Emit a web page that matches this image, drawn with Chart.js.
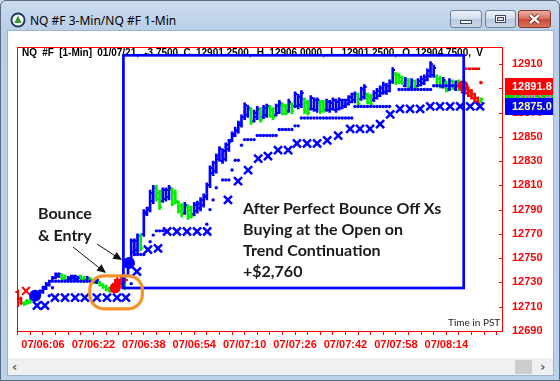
<!DOCTYPE html>
<html><head><meta charset="utf-8">
<script src="https://cdn.jsdelivr.net/npm/chart.js@4.4.1/dist/chart.umd.min.js"></script>
<style>
html,body{margin:0;padding:0;}
body{width:560px;height:381px;overflow:hidden;position:relative;background:linear-gradient(#cddcef,#b9cfe8 30px,#bcd1ea);font-family:"Liberation Sans",Arial,sans-serif;}
#edge{position:absolute;left:0;top:0;width:558px;height:379px;border:1px solid #5a6b80;border-radius:6px 6px 0 0;}
#content{position:absolute;left:8px;top:31px;width:545px;height:344px;background:#fff;outline:1px solid #9fb3cc;}
#title{position:absolute;left:30px;top:12.5px;font:12px/16px "Noto Sans",sans-serif;color:#000;white-space:nowrap;}
.btn{position:absolute;top:10px;height:16px;border:1px solid #6f819b;border-radius:3px;background:linear-gradient(#eaf0f8,#d3deec 48%,#bccbe0 52%,#cbd8ea);}
#bmin{left:450px;width:30px;}
#bmax{left:485px;width:29px;}
#bclose{left:518px;width:31px;border-color:#86372c;background:linear-gradient(#eab1a4,#d8705e 48%,#c74a36 52%,#d8735e);}
#chartbox{position:absolute;left:8px;top:31px;width:545px;height:327px;}
#hdr{position:absolute;left:22px;top:47px;width:466px;overflow:hidden;white-space:nowrap;font:bold 10px/12px "Liberation Sans",Arial,sans-serif;word-spacing:2.5px;color:#000;}
#scroll{position:absolute;left:8px;top:358px;width:545px;height:17px;background:#f0f0f0;}
#thumb{position:absolute;left:507px;top:2px;width:17px;height:14px;background:#cdcdcd;}
.arr{position:absolute;top:0;font:bold 13px/17px "DejaVu Sans",sans-serif;color:#606060;}
.note{position:absolute;font-family:Lato,sans-serif;font-weight:bold;color:#1a1a1a;white-space:nowrap;}
#ov{position:absolute;left:0;top:0;}
</style></head>
<body>
<div id="edge"></div>
<div id="content"></div>
<svg width="30" height="30" style="position:absolute;left:0;top:0">
  <circle cx="18" cy="20" r="7.5" fill="#1d3566"/>
  <circle cx="18" cy="20" r="5.6" fill="#fff"/>
  <polygon points="18,15.6 14.3,23 21.7,23" fill="#2f9b2f"/>
</svg>
<div id="title">NQ #F 3-Min/NQ #F 1-Min</div>
<div class="btn" id="bmin"><svg width="30" height="16"><rect x="9.5" y="9.5" width="11" height="3" fill="#fff" stroke="#3b4a60"/></svg></div>
<div class="btn" id="bmax"><svg width="29" height="16"><rect x="9.5" y="4.5" width="10" height="7" fill="#fff" stroke="#3b4a60"/><rect x="11.5" y="6.5" width="6" height="3" fill="#d3deec" stroke="#3b4a60"/></svg></div>
<div class="btn" id="bclose"><svg width="31" height="16"><path d="M11 4 L20 12 M20 4 L11 12" stroke="#5a1a12" stroke-width="4"/><path d="M11 4 L20 12 M20 4 L11 12" stroke="#fff" stroke-width="2.4"/></svg></div>
<div id="chartbox"><canvas id="c" width="545" height="327"></canvas></div>
<div id="hdr">NQ #F [1-Min] 01/07/21, -3.7500 C 12901.2500, H 12906.0000, L 12901.2500, O 12904.7500, V</div>
<div id="scroll"><span class="arr" style="left:4px">&#8249;</span><div id="thumb"></div><span class="arr" style="left:532px">&#8250;</span></div>
<svg id="ov" width="560" height="381">
  <rect x="123.4" y="55.3" width="340.3" height="232.7" fill="none" stroke="#0000FF" stroke-width="2.7"/>
  <rect x="89.8" y="275.8" width="52.5" height="33" rx="14" ry="14" fill="none" stroke="#F5922A" stroke-width="3.2"/>
  <line x1="73" y1="247" x2="100" y2="268.5" stroke="#111" stroke-width="1"/>
  <polygon points="106,273 96.5,270.5 101.5,264.2" fill="#111"/>
  <line x1="97" y1="244" x2="115" y2="255.8" stroke="#111" stroke-width="1"/>
  <polygon points="122,260 112.4,258.8 116.8,252.1" fill="#111"/>
</svg>
<div class="note" style="left:38px;top:202.4px;font-size:16px;line-height:21.4px">Bounce<br>&amp; Entry</div>
<div class="note" style="left:243px;top:196.6px;font-size:16px;line-height:21px">After Perfect Bounce Off Xs<br>Buying at the Open on<br>Trend Continuation<br>+$2,760</div>
<div class="note" style="left:448px;top:315.8px;font-size:10px;line-height:12px;font-weight:normal;color:#222">Time in PST</div>
<script>
// ---- data: one bar per minute (minutes after midnight, 07 Jan 2021, PST) ----
const firstBarMinute = 358;
const barColor = ['r','r','g','g','g','b','b','b','b','b','b','b','b','b','g','g','b','b','b','b','g','g','b','g','g','b','g','g','g','g','r','r','r','r','g','b','b','b','b','g','b','b','b','b','g','g','b','b','b','g','g','g','g','b','g','g','b','b','b','b','b','b','b','b','b','b','b','b','b','b','b','b','b','b','g','b','b','g','b','b','g','g','b','b','g','g','b','g','b','b','b','g','g','b','b','b','g','g','b','b','b','b','b','b','b','b','b','b','g','b','b','g','g','b','b','b','b','b','b','b','g','g','g','b','g','b','g','b','b','b','b','b','b','g','g','b','g','b','g','b','g','r','r','r','r','r','r','g'];
const barLow = [12710,12712,12711,12712,12713,12715,12717,12719,12721,12724,
  12727,12730,12733,12734,12732,12731,12731,12732,12732,12731,
  12731,12730,12731,12730,12729,12729,12727,12725,12723,12722,
  12722,12724,12726,12725,12724,12735,12746,12752,12754,12756,
  12768,12785,12788,12795,12797,12790,12796,12797,12798,12793,
  12795,12787,12784,12786,12782,12783,12785,12787,12789,12792,
  12798,12808,12818,12820,12830,12828,12830,12838,12846,12850,
  12853,12858,12864,12866,12860,12862,12864,12862,12865,12866,
  12866,12864,12867,12869,12868,12868,12870,12869,12874,12873,
  12874,12869,12868,12872,12871,12870,12869,12870,12871,12870,
  12872,12870,12872,12873,12874,12876,12878,12878,12876,12880,
  12881,12877,12876,12879,12881,12883,12885,12885,12887,12894,
  12893,12894,12893,12891,12889,12890,12889,12891,12892,12893,
  12896,12899,12899,12891,12890,12890,12887,12888,12889,12888,
  12888,12886,12885,12883,12881,12878,12876,12878];
const barHigh = [12724,12718,12714,12716,12718,12721,12722,12724,12727,12730,
  12732,12735,12738,12738,12737,12736,12735,12736,12736,12735,
  12736,12735,12735,12734,12733,12733,12731,12729,12728,12726,
  12727,12731,12731,12730,12736,12748,12766,12766,12770,12770,
  12790,12792,12806,12810,12810,12806,12808,12808,12810,12808,
  12806,12797,12795,12796,12794,12793,12796,12797,12800,12803,
  12812,12826,12830,12836,12842,12840,12845,12848,12854,12858,
  12863,12868,12878,12876,12874,12872,12875,12874,12876,12877,
  12876,12874,12877,12880,12878,12877,12881,12878,12887,12885,
  12888,12882,12880,12884,12882,12882,12880,12880,12881,12880,
  12882,12881,12882,12881,12881,12884,12886,12887,12886,12891,
  12893,12886,12885,12888,12890,12892,12895,12894,12897,12907,
  12903,12902,12900,12899,12898,12898,12897,12898,12900,12901,
  12906,12912,12909,12901,12900,12899,12896,12898,12897,12896,
  12897,12895,12893,12891,12889,12886,12883,12882];
const barOpen = [12722,12716,12713,12715,12714,12716,12718,12720,12722,12725,
  12728,12731,12734,12735,12736,12734,12732,12733,12734,12733,
  12735,12733,12732,12733,12732,12730,12730,12728,12726,12725,
  12723,12726,12728,12729,12727,12736,12748,12755,12757,12768,
  12770,12786,12790,12797,12808,12804,12797,12799,12800,12806,
  12804,12796,12793,12787,12792,12790,12786,12789,12791,12794,
  12800,12810,12820,12822,12832,12830,12832,12840,12847,12851,
  12855,12860,12866,12868,12872,12863,12866,12872,12866,12868,
  12874,12872,12868,12870,12876,12875,12871,12877,12875,12875,
  12876,12881,12878,12873,12873,12872,12878,12879,12872,12872,
  12873,12872,12873,12874,12875,12877,12879,12880,12885,12881,
  12883,12885,12883,12880,12882,12884,12886,12887,12888,12895,
  12902,12901,12899,12892,12897,12891,12896,12892,12893,12894,
  12897,12900,12901,12900,12898,12891,12895,12889,12896,12889,
  12896,12894,12892,12890,12888,12885,12882,12879];
const barClose = [12716,12713,12712,12713,12717,12720,12721,12723,12726,12729,
  12731,12734,12737,12737,12733,12732,12734,12735,12735,12734,
  12732,12731,12734,12731,12730,12732,12728,12726,12724,12723,
  12726,12729,12730,12727,12735,12747,12764,12764,12768,12758,
  12788,12791,12804,12808,12799,12792,12806,12806,12808,12795,
  12797,12789,12786,12794,12784,12785,12794,12795,12798,12801,
  12810,12824,12828,12834,12840,12838,12843,12846,12852,12856,
  12861,12866,12876,12874,12862,12870,12873,12864,12874,12875,
  12867,12866,12875,12878,12869,12870,12879,12871,12885,12883,
  12886,12871,12870,12882,12880,12880,12871,12872,12879,12878,
  12880,12879,12880,12880,12880,12883,12885,12885,12877,12889,
  12891,12878,12877,12886,12888,12890,12893,12892,12895,12905,
  12894,12895,12894,12897,12890,12896,12890,12896,12898,12899,
  12904,12910,12907,12892,12891,12897,12888,12896,12890,12895,
  12889,12887,12886,12884,12882,12879,12877,12881];
const dotMinutes = [368,369,370,371,372,373,374,375,376,377,378,379,380,381,382,383,394,395,396,397,398,400,401,402,403,404,405,418,419,420,421,423,424,425,426,427,428,429,430,431,432,433,434,435,436,437,438,439,440,441,442,443,444,445,446,447,448,449,450,451,452,453,454,455,456,457,458,459,460,461,462,463,464,465,466,467,468,469,470,471,472,473,474,475,476,479,480,481,482,483,484,485,486,487,488,489,490,491,492,493,494,495,496,497,498,499];
const dotValues = [12719,12725.6,12731,12731,12731,12731,12731,12731,12731,12731,12731,12731,12731,12731,12731,12731,12729,12753,12753,12753,12753,12763.6,12769,12772.5,12772.5,12772.5,12772.5,12778,12790,12798,12808,12814.5,12814.5,12814.5,12822.6,12830.7,12830.7,12843,12847.7,12847.7,12847.7,12847.7,12851,12851,12851,12851,12851,12851,12851,12856,12856,12856,12856,12856,12859,12859,12865.5,12865.5,12865.5,12865.5,12865.5,12865.5,12865.5,12865.5,12865.5,12865.5,12865.5,12865.5,12865.5,12865.5,12865.5,12865.5,12865.5,12875,12875,12875,12875,12875,12875,12875,12875,12875,12875,12875,12875,12889,12889,12889,12889,12889,12889,12889,12889,12889,12889,12889,12892,12892,12892,12892,12892,12892,12892,12892,12892,12892];
const xMarkMinutes = [364.1,366.6,369.8,373,376.2,379.3,383.1,386.3,389.5,392.3,395.8,399.3,402.5,405.4,408.5,411.7,414.9,418.1,424.7,427.9,431.1,434.3,437.4,440.6,443.8,446.6,449.8,453,456.2,459.7,463.5,466.6,469.8,473,476.2,479.3,482.5,485.7,488.9,492,495.2,498.4,501.6,504.7];
const xMarkValues = [12711,12711,12717.5,12717.5,12717.5,12717.5,12717.5,12717.5,12717.5,12717.5,12739,12757,12758,12772,12772,12772,12772,12772,12798,12813.5,12822.5,12832,12834,12839,12839,12844.5,12844.5,12844.5,12847,12851,12856.5,12856.5,12856.5,12860.5,12868.5,12873,12873,12873,12875,12875,12875,12875,12875,12875];
const entryMinutes = [363.5,393.3];
const entryValues = [12719,12746];
const exitMinutes = [388.9,499.3];
const exitValues = [12725.6,12892];
const redCrossMinutes = [389.5,390.8,392];
const redCrossValues = [12732,12732.5,12732];
const redXMinutes = [360.6];
const redXValues = [12723];
const redDashMinutes = [500,501.4,502.8,504.1];
const redDashValues = [12906,12906,12906,12906];
const redDotMinutes = [505];
const redDotValues = [12894.6];
const yTickValues = [12690,12710,12730,12750,12770,12790,12810,12830,12850,12870,12890,12910];
const xTickMinutes = [358,362,366,370,374,378,382,386,390,394,398,402,406,410,414,418,422,426,430,434,438,442,446,450,454,458,462,466,470,474,478,482,486,490,494,498,502,506,510];
const xLabelMinutes = [366,382,398,414,430,446,462,478,494];
const xTickLabels = ['07/06:06','07/06:22','07/06:38','07/06:54','07/07:10','07/07:26','07/07:42','07/07:58','07/08:14'];
const priceLabelValues = [12883.4,12891.8,12875.0];
const priceLabelTexts = ['12883.4','12891.8','12875.0'];

// ---- styling ----
const colorMap = {b:'#0000FF', g:'#00EE00', r:'#FF0000'};
const priceLabelStyles = [{bg:'#00E000',fg:'#FF60FF'},{bg:'#FF0000',fg:'#D8FFFF'},{bg:'#0000FF',fg:'#FFFF90'}];
const pts = (xs, ys) => xs.map((x, i) => ({x, y: ys[i]}));

const ohlcTicks = {
  id: 'ohlcTicks',
  beforeDatasetsDraw(chart) {
    const {ctx, scales: {x, y}} = chart;
    ctx.save();
    ctx.lineWidth = 2;
    barHigh.forEach((h, i) => {
      const px = x.getPixelForValue(firstBarMinute + i);
      const yo = Math.round(y.getPixelForValue(barOpen[i]));
      const yc = Math.round(y.getPixelForValue(barClose[i]));
      ctx.strokeStyle = colorMap[barColor[i]];
      ctx.beginPath();
      ctx.moveTo(px - 2.4, yo); ctx.lineTo(px, yo);
      ctx.moveTo(px, yc); ctx.lineTo(px + 2.4, yc);
      ctx.stroke();
    });
    ctx.restore();
  }
};

const frame = {
  id: 'frame',
  afterDraw(chart) {
    const {ctx, chartArea: a, scales: {y}} = chart;
    ctx.save();
    ctx.strokeStyle = '#FF0000';
    ctx.lineWidth = 1;
    ctx.strokeRect(Math.round(a.left) + 0.5, Math.round(a.top) + 0.5, Math.round(a.right - a.left) - 1, Math.round(a.bottom - a.top));
    ctx.beginPath();
    yTickValues.forEach(v => {
      const py = Math.round(y.getPixelForValue(v)) + 0.5;
      ctx.moveTo(a.right - 4, py); ctx.lineTo(a.right, py);
    });
    ctx.stroke();
    ctx.font = 'bold 11px "Liberation Sans", Arial, sans-serif';
    ctx.textBaseline = 'middle';
    priceLabelValues.forEach((v, i) => {
      const py = y.getPixelForValue(v);
      ctx.fillStyle = priceLabelStyles[i].bg;
      ctx.fillRect(a.right + 2, Math.round(py - 8.5), chart.width - a.right - 2, 17);
      ctx.fillStyle = priceLabelStyles[i].fg;
      ctx.fillText(priceLabelTexts[i], a.right + 9, py + 0.5);
    });
    ctx.restore();
  }
};

new Chart(document.getElementById('c'), {
  type: 'scatter',
  data: {
    datasets: [
      {data: pts(entryMinutes, entryValues), pointStyle: 'circle', radius: 6, backgroundColor: '#0000FF', borderWidth: 0, order: 0},
      {data: pts(exitMinutes, exitValues), pointStyle: 'circle', radius: 5.5, backgroundColor: '#FF0000', borderWidth: 0, order: 0},
      {data: pts(redCrossMinutes, redCrossValues), pointStyle: 'cross', radius: 3, borderColor: '#FF0000', borderWidth: 2, order: 1},
      {data: pts(redXMinutes, redXValues), pointStyle: 'crossRot', radius: 5.5, borderColor: '#FF0000', borderWidth: 2, order: 1},
      {data: pts(redDashMinutes, redDashValues), pointStyle: 'line', radius: 2, borderColor: '#FF0000', borderWidth: 2.5, order: 1},
      {data: pts(redDotMinutes, redDotValues), pointStyle: 'circle', radius: 1.8, backgroundColor: '#FF0000', borderWidth: 0, order: 1},
      {data: pts(xMarkMinutes, xMarkValues), pointStyle: 'crossRot', radius: 5.7, borderColor: '#0000FF', borderWidth: 2.5, order: 2},
      {data: pts(dotMinutes, dotValues), pointStyle: 'circle', radius: 1.7, backgroundColor: '#0000FF', borderWidth: 0, order: 3},
      {type: 'bar', data: barHigh.map((h, i) => ({x: firstBarMinute + i, y: [barLow[i], h]})),
       backgroundColor: barColor.map(c => colorMap[c]), barThickness: 2, borderWidth: 0, grouped: false, order: 4}
    ]
  },
  options: {
    responsive: false, animation: false, events: [],
    layout: {padding: {left: 9, top: 10, right: 0, bottom: 0}},
    plugins: {legend: {display: false}, tooltip: {enabled: false}},
    scales: {
      x: {
        type: 'linear', position: 'bottom', min: 357.75, max: 512, offset: false,
        afterBuildTicks: s => { s.ticks = xTickMinutes.map(v => ({value: v})); },
        afterFit: s => { s.height = 27; },
        ticks: {autoSkip: false, maxRotation: 0, color: '#FF0000', padding: 3,
          font: {family: '"Liberation Sans", Arial, sans-serif', weight: 'bold', size: 11},
          callback: v => { const i = xLabelMinutes.indexOf(v); return i >= 0 ? xTickLabels[i] : ''; }},
        grid: {drawOnChartArea: false, drawTicks: true, tickLength: 4, color: '#FF0000', offset: false},
        border: {display: false}
      },
      y: {
        type: 'linear', position: 'right', min: 12690, max: 12924.3,
        afterBuildTicks: s => { s.ticks = yTickValues.map(v => ({value: v})); },
        afterFit: s => { s.width = 50; },
        ticks: {color: '#FF0000', padding: 9,
          font: {family: '"Liberation Sans", Arial, sans-serif', weight: 'bold', size: 11},
          callback: v => String(v)},
        grid: {drawOnChartArea: false, drawTicks: false},
        border: {display: false}
      }
    }
  },
  plugins: [ohlcTicks, frame]
});
</script>
</body></html>
